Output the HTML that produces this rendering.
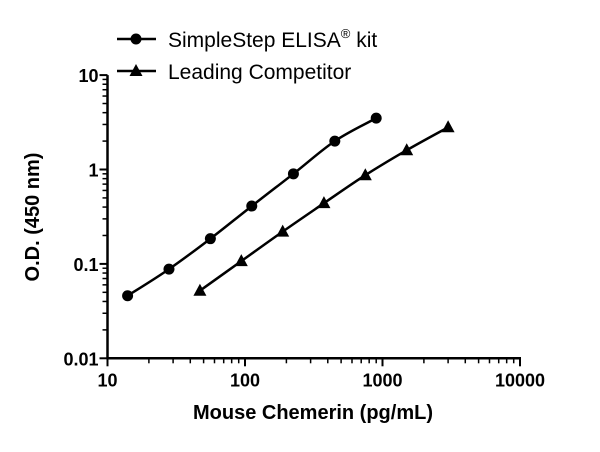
<!DOCTYPE html>
<html><head><meta charset="utf-8"><style>
body{margin:0;background:#fff;}
svg{font-family:"Liberation Sans",sans-serif;}
</style></head><body>
<svg id="chart" width="600" height="447" viewBox="0 0 600 447">
<g id="axes"></g>
<g id="series"></g>
<g>
  <g>
    <line x1="117" y1="39" x2="156" y2="39" stroke="#000" stroke-width="2.5"/>
    <circle cx="136" cy="39" r="5.5" fill="#000"/>
    <text x="168" y="47" font-size="21">SimpleStep ELISA<tspan font-size="13" dy="-9">®</tspan><tspan dy="9"> kit</tspan></text>
  </g>
  <g>
    <line x1="117" y1="71" x2="156" y2="71" stroke="#000" stroke-width="2.5"/>
    <polygon points="136,64 142.5,76 129.5,76" fill="#000"/>
    <text x="168" y="79" font-size="21">Leading Competitor</text>
  </g>
</g>
<text x="313" y="419" font-size="20" font-weight="bold" text-anchor="middle">Mouse Chemerin (pg/mL)</text>
<text transform="translate(39,217) rotate(-90)" font-size="20" font-weight="bold" text-anchor="middle">O.D. (450 nm)</text>
</svg>
<script>
const xTickLabels=["10","100","1000","10000"];
const yTickLabels=["0.01","0.1","1","10"];
const ssX=[14,28,56,112,225,450,900];
const ssY=[0.046,0.088,0.185,0.41,0.9,2.0,3.5];
const lcX=[47,94,188,375,750,1500,3000];
const lcY=[0.052,0.107,0.22,0.44,0.87,1.6,2.8];

const NS="http://www.w3.org/2000/svg";
const X0=107.5,XD=137.5,Y0=358.3,YD=94.4;
function sx(v){return X0+(Math.log10(v)-1)*XD;}
function sy(v){return Y0-(Math.log10(v)+2)*YD;}
function mk(tag,attrs,parent){const e=document.createElementNS(NS,tag);for(const k in attrs)e.setAttribute(k,attrs[k]);parent.appendChild(e);return e;}
const axes=document.getElementById('axes');
const ser=document.getElementById('series');

let xa=mk('line',{x1:X0,y1:Y0,x2:sx(10000)+1,y2:Y0,stroke:'#000','stroke-width':2.5},axes);


let ya=mk('line',{x1:X0,y1:Y0+1,x2:X0,y2:sy(10),stroke:'#000','stroke-width':2.5},axes);



xTickLabels.forEach(function(l){
  const v=parseFloat(l);
  const t=mk('line',{x1:sx(v),y1:Y0,x2:sx(v),y2:Y0+8,stroke:'#000','stroke-width':2},axes);
  
  
  const tx=mk('text',{x:sx(v),y:Y0+28,'font-size':18,'font-weight':'bold','text-anchor':'middle'},axes);
  tx.textContent=l;
  
  
  if(v<10000){for(let m=2;m<10;m++){const mt=mk('line',{x1:sx(v*m),y1:Y0,x2:sx(v*m),y2:Y0+5,stroke:'#000','stroke-width':1.5},axes);
    
    }}
});
yTickLabels.forEach(function(l){
  const v=parseFloat(l);
  const t=mk('line',{x1:X0-8,y1:sy(v),x2:X0,y2:sy(v),stroke:'#000','stroke-width':2},axes);
  
  
  const tx=mk('text',{x:X0-9,y:sy(v)+7,'font-size':18,'font-weight':'bold','text-anchor':'end'},axes);
  tx.textContent=l;
  
  
  if(v<10){for(let m=2;m<10;m++){const mt=mk('line',{x1:X0-5,y1:sy(v*m),x2:X0,y2:sy(v*m),stroke:'#000','stroke-width':1.5},axes);
    
    }}
});

function line(xs,ys,name){
  const P=xs.map((x,i)=>[sx(x),sy(ys[i])]);
  let d='M'+P[0][0].toFixed(1)+','+P[0][1].toFixed(1);
  for(let i=0;i<P.length-1;i++){
    const p0=P[Math.max(i-1,0)],p1=P[i],p2=P[i+1],p3=P[Math.min(i+2,P.length-1)];
    const c1=[p1[0]+(p2[0]-p0[0])/6,p1[1]+(p2[1]-p0[1])/6];
    const c2=[p2[0]-(p3[0]-p1[0])/6,p2[1]-(p3[1]-p1[1])/6];
    d+=' C'+c1[0].toFixed(1)+','+c1[1].toFixed(1)+' '+c2[0].toFixed(1)+','+c2[1].toFixed(1)+' '+p2[0].toFixed(1)+','+p2[1].toFixed(1);
  }
  const l=mk('path',{d:d,fill:'none',stroke:'#000','stroke-width':2.5},ser);
  
  
}
line(ssX,ssY,'simplestep-curve');
line(lcX,lcY,'competitor-curve');
ssX.forEach(function(x,i){
  const c=mk('circle',{cx:sx(x),cy:sy(ssY[i]),r:5.5,fill:'#000'},ser);
  
  
});
lcX.forEach(function(x,i){
  const X=sx(x),Y=sy(lcY[i]);
  const p=mk('polygon',{points:X+','+(Y-7)+' '+(X+6.5)+','+(Y+5)+' '+(X-6.5)+','+(Y+5),fill:'#000'},ser);
  
  
});
</script>
</body></html>
